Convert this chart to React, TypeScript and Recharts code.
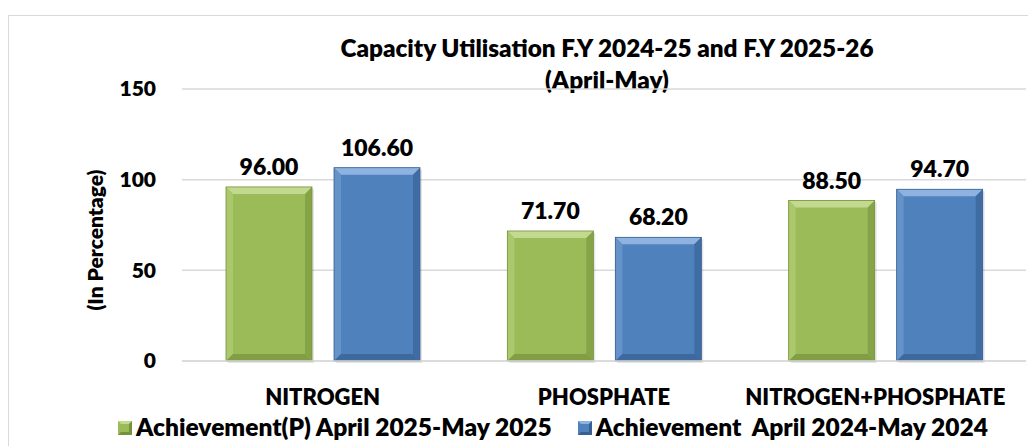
import { BarChart, Bar, XAxis, YAxis, CartesianGrid, LabelList } from 'recharts';

const categories = ['NITROGEN', 'PHOSPHATE', 'NITROGEN+PHOSPHATE'];
const achievement2025 = [96.0, 71.7, 88.5];
const achievement2024 = [106.6, 68.2, 94.7];
const yTicks = [0, 50, 100, 150];
const seriesNames = ['Achievement(P) April 2025-May 2025', 'Achievement  April 2024-May 2024'];

const FONT = 'Lato, "Open Sans", sans-serif';
const WEIGHT = 800;

const palette = {
  green: { main: '#9bbb59', light: '#c3d990', side: '#abc86c', dark: '#76923c' },
  blue: { main: '#4f81bd', light: '#8eb3e0', side: '#6592c9', dark: '#375f92' },
};

const data = categories.map((name, i) => ({
  name,
  a2025: achievement2025[i],
  a2024: achievement2024[i],
}));

// bar with an Excel-like bevel
function BevelBar(props: any) {
  const { x, y, width, height, colors } = props;
  if (!width || !height) return null;
  const b = Math.min(7, width / 4, height / 4);
  const r = x + width;
  const btm = y + height;
  return (
    <g>
      <rect x={x + 2} y={y + 2} width={width} height={height} fill="#000" opacity={0.1} />
      <rect x={x} y={y} width={width} height={height} fill={colors.main} />
      <polygon points={`${x},${y} ${r},${y} ${r - b},${y + b} ${x + b},${y + b}`} fill={colors.light} />
      <polygon points={`${x},${y} ${x + b},${y + b} ${x + b},${btm - b} ${x},${btm}`} fill={colors.side} />
      <polygon points={`${r},${y} ${r},${btm} ${r - b},${btm - b} ${r - b},${y + b}`} fill={colors.dark} opacity={0.6} />
      <polygon points={`${x},${btm} ${r},${btm} ${r - b},${btm - b} ${x + b},${btm - b}`} fill={colors.dark} opacity={0.7} />
      <rect x={x} y={y} width={width} height={height} fill="none" stroke={colors.dark} strokeWidth={0.8} />
    </g>
  );
}

function LegendIcon({ colors }: { colors: any }) {
  const s = 14;
  const b = 3;
  return (
    <svg width={s} height={s} style={{ verticalAlign: 'middle', marginRight: 4, marginBottom: 3 }}>
      <rect x={0} y={0} width={s} height={s} fill={colors.main} />
      <polygon points={`0,0 ${s},0 ${s - b},${b} ${b},${b}`} fill={colors.light} />
      <polygon points={`${s},0 ${s},${s} ${s - b},${s - b} ${s - b},${b}`} fill={colors.dark} />
      <polygon points={`0,${s} ${s},${s} ${s - b},${s - b} ${b},${s - b}`} fill={colors.dark} />
    </svg>
  );
}

// category tick; the last one is pulled in a little, as the source does
function CategoryTick(props: any) {
  const { x, y, payload, index } = props;
  const dx = index === categories.length - 1 ? -10 : 0;
  return (
    <text
      x={x + dx}
      y={y}
      dy="0.71em"
      textAnchor="middle"
      fill="#000"
      fontSize={22}
      fontWeight={WEIGHT}
      fontFamily={FONT}
    >
      {payload.value}
    </text>
  );
}

const fmt = (v: any) => Number(v).toFixed(2);

export default function App() {
  const tickStyle = { fill: '#000', fontSize: 21, fontWeight: WEIGHT, fontFamily: FONT };
  const labelStyle = { fill: '#000', fontSize: 23, fontWeight: WEIGHT, fontFamily: FONT };
  return (
    <div style={{ position: 'relative', width: 1028, height: 438, fontFamily: FONT }}>
      <div
        style={{
          position: 'absolute',
          left: 0,
          top: 7,
          width: 1040,
          height: 460,
          border: '1px solid #d9d9d9',
          boxSizing: 'border-box',
        }}
      />
      <div
        style={{
          position: 'absolute',
          left: 299,
          top: 24,
          width: 600,
          textAlign: 'center',
          fontSize: 24.3,
          fontWeight: WEIGHT,
          lineHeight: '32px',
          color: '#000',
        }}
      >
        <div>Capacity Utilisation F.Y 2024-25 and F.Y 2025-26</div>
        <div>(April-May)</div>
      </div>
      <BarChart
        width={1028}
        height={438}
        data={data}
        margin={{ top: 81, right: 10, left: 0, bottom: 25 }}
        barGap={22}
        style={{ position: 'absolute', left: 0, top: 0 }}
      >
        <CartesianGrid vertical={false} stroke="#d9d9d9" strokeWidth={1.5} />
        <XAxis
          dataKey="name"
          height={60}
          tickLine={false}
          axisLine={{ stroke: '#d9d9d9', strokeWidth: 1.5 }}
          tick={<CategoryTick />}
          tickMargin={22}
          interval={0}
        />
        <YAxis
          width={174}
          domain={[0, 150]}
          ticks={yTicks}
          axisLine={false}
          tickLine={false}
          tick={tickStyle}
          tickMargin={20}
          label={(p: any) => {
            const vb = p.viewBox || {};
            const cx = 86;
            const cy = (vb.y ?? 81) + (vb.height ?? 272) / 2 + 15;
            return (
              <text
                x={cx}
                y={cy}
                transform={`rotate(-90 ${cx} ${cy})`}
                textAnchor="middle"
                dominantBaseline="central"
                fill="#000"
                fontSize={21}
                fontWeight={WEIGHT}
                fontFamily={FONT}
              >
                (In Percentage)
              </text>
            );
          }}
        />
        <Bar
          dataKey="a2025"
          name={seriesNames[0]}
          barSize={86}
          fill={palette.green.main}
          isAnimationActive={false}
          shape={(p: any) => <BevelBar {...p} colors={palette.green} />}
        >
          <LabelList dataKey="a2025" position="top" offset={12} formatter={fmt} style={labelStyle} />
        </Bar>
        <Bar
          dataKey="a2024"
          name={seriesNames[1]}
          barSize={86}
          fill={palette.blue.main}
          isAnimationActive={false}
          shape={(p: any) => <BevelBar {...p} colors={palette.blue} />}
        >
          <LabelList dataKey="a2024" position="top" offset={12} formatter={fmt} style={labelStyle} />
        </Bar>
      </BarChart>
      <div
        style={{
          position: 'absolute',
          left: 110,
          top: 405,
          fontSize: 24.5,
          fontWeight: WEIGHT,
          color: '#000',
          whiteSpace: 'pre',
          lineHeight: '28px',
        }}
      >
        <span>
          <LegendIcon colors={palette.green} />
          {seriesNames[0]}
        </span>
        <span style={{ marginLeft: 26 }}>
          <LegendIcon colors={palette.blue} />
          {seriesNames[1]}
        </span>
      </div>
    </div>
  );
}
